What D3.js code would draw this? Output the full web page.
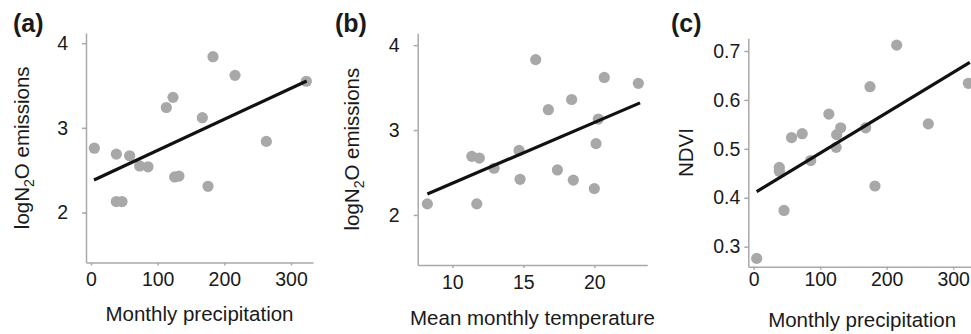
<!DOCTYPE html>
<html lang="en">
<head>
    <meta charset="UTF-8">
    <title>N2O emissions and NDVI vs climate</title>
    <style>
        body {
            margin: 0;
            background: #fff;
        }

        svg text {
            font-family: "Liberation Sans", Arial, Helvetica, sans-serif;
            fill: #1a1a1a;
        }

        .axis path,
        .axis line {
            stroke: #a9a9a9;
            stroke-width: 1.5px;
        }

        .axis text {
            font-size: 19.5px;
        }

        .title {
            font-size: 20.5px;
        }

        .panel-label {
            font-size: 25px;
            font-weight: bold;
        }

        .dot {
            fill: #a8a8a8;
        }

        .fit {
            stroke: #111;
            stroke-width: 3.2px;
            fill: none;
        }
    </style>
</head>
<body>
<div id="chart"></div>

<script src="https://cdn.jsdelivr.net/npm/d3@7"></script>
<script>

    // (a) log N2O emissions against monthly precipitation
    var precipA = [5, 38, 38, 46.5, 58, 73, 85.5, 113, 123, 125.5, 132, 167, 175.5, 183, 216, 263, 323]
    var n2oA = [2.76, 2.69, 2.13, 2.13, 2.67, 2.55, 2.54, 3.24, 3.36, 2.42, 2.43, 3.12, 2.31, 3.84, 3.62, 2.84, 3.55]
    var fitAx = [4.5, 323.5]
    var fitAy = [2.385, 3.554]

    // (b) log N2O emissions against mean monthly temperature
    var tempB = [8.24, 11.37, 11.9, 11.72, 12.94, 14.7, 14.77, 15.87, 16.76, 17.4, 18.4, 18.52, 20.12, 20.0, 20.28, 20.7, 23.1]
    var n2oB = [2.13, 2.69, 2.67, 2.13, 2.55, 2.76, 2.42, 3.83, 3.24, 2.53, 3.36, 2.41, 2.84, 2.31, 3.13, 3.62, 3.55]
    var fitBx = [8.24, 23.22]
    var fitBy = [2.247, 3.32]

    // (c) NDVI against monthly precipitation
    var precipC = [4.5, 38.5, 38.5, 45.6, 57, 73, 85.7, 113, 124.8, 124, 130.8, 168.4, 174.9, 182.4, 215, 262.6, 322.8]
    var ndviC = [0.276, 0.462, 0.454, 0.374, 0.523, 0.531, 0.476, 0.571, 0.529, 0.503, 0.543, 0.543, 0.627, 0.424, 0.712, 0.551, 0.634]
    var fitCx = [4.5, 325]
    var fitCy = [0.4124, 0.677]

    var ticksN2O = [2, 3, 4]
    var ticksPrecip = [0, 100, 200, 300]
    var ticksTemp = [10, 15, 20]
    var ticksNdvi = [0.3, 0.4, 0.5, 0.6, 0.7]

    var width = 971,
        height = 334

    var svg = d3.select("#chart").append("svg")
        .attr("width", width)
        .attr("height", height)

    // layout of each panel: where the axis lines sit and how far the labels are pushed out
    var panels = [
        {
            label: "(a)", labelX: 13,
            x: precipA, y: n2oA, fx: fitAx, fy: fitAy,
            xDomain: [-7.5, 333], yDomain: [1.41, 4.12],
            left: 86, right: 313, top: 33, bottom: 262.5,
            xTicks: ticksPrecip, yTicks: ticksN2O, yFormat: d3.format("d"),
            xPad: 7, yPad: 14,
            xTitle: "Monthly precipitation", xTitleY: 321,
            yTitle: "n2o", yTitleX: 29
        },
        {
            label: "(b)", labelX: 335,
            x: tempB, y: n2oB, fx: fitBx, fy: fitBy,
            xDomain: [7.56, 23.73], yDomain: [1.41, 4.14],
            left: 417.7, right: 647.3, top: 33.3, bottom: 265,
            xTicks: ticksTemp, yTicks: ticksN2O, yFormat: d3.format("d"),
            xPad: 7, yPad: 14,
            xTitle: "Mean monthly temperature", xTitleY: 325,
            yTitle: "n2o", yTitleX: 359
        },
        {
            label: "(c)", labelX: 671,
            x: precipC, y: ndviC, fx: fitCx, fy: fitCy,
            xDomain: [-8.1, 334.3], yDomain: [0.259, 0.726],
            left: 748.3, right: 976, top: 38.3, bottom: 266.7,
            xTicks: ticksPrecip, yTicks: ticksNdvi, yFormat: d3.format(".1f"),
            xPad: 2, yPad: 4,
            xTitle: "Monthly precipitation", xTitleY: 326.5,
            yTitle: "NDVI", yTitleX: 693
        }
    ]

    panels.forEach(function (p) {
        var g = svg.append("g")

        var x = d3.scaleLinear().domain(p.xDomain).range([p.left, p.right])
        var y = d3.scaleLinear().domain(p.yDomain).range([p.bottom, p.top])

        g.append("g")
            .attr("class", "axis")
            .attr("transform", "translate(0," + p.bottom + ")")
            .call(d3.axisBottom(x).tickValues(p.xTicks).tickSizeInner(3).tickSizeOuter(0).tickPadding(p.xPad))

        g.append("g")
            .attr("class", "axis")
            .attr("transform", "translate(" + p.left + ",0)")
            .call(d3.axisLeft(y).tickValues(p.yTicks).tickFormat(p.yFormat).tickSizeInner(4).tickSizeOuter(0).tickPadding(p.yPad))

        g.selectAll(".axis text").attr("fill", "#1a1a1a")
        g.selectAll(".axis .domain").attr("stroke", "#a9a9a9")
        g.selectAll(".axis .tick line").attr("stroke", "#a9a9a9")

        // points
        var pts = d3.zip(p.x, p.y)
        g.selectAll("circle")
            .data(pts)
            .enter().append("circle")
            .attr("class", "dot")
            .attr("cx", function (d) { return x(d[0]) })
            .attr("cy", function (d) { return y(d[1]) })
            .attr("r", 5.6)

        // fitted line
        g.append("path")
            .attr("class", "fit")
            .attr("d", d3.line()
                .x(function (d) { return x(d[0]) })
                .y(function (d) { return y(d[1]) })(d3.zip(p.fx, p.fy)))

        // axis titles
        g.append("text")
            .attr("class", "title")
            .attr("text-anchor", "middle")
            .attr("x", (p.left + p.right) / 2)
            .attr("y", p.xTitleY)
            .text(p.xTitle)

        var yt = g.append("text")
            .attr("class", "title")
            .attr("text-anchor", "middle")
            .attr("transform", "translate(" + p.yTitleX + "," + ((p.top + p.bottom) / 2) + ") rotate(-90)")
        if (p.yTitle === "n2o") {
            yt.append("tspan").text("logN")
            yt.append("tspan").attr("dy", 5).style("font-size", "14px").text("2")
            yt.append("tspan").attr("dy", -5).text("O emissions")
        } else {
            yt.text(p.yTitle)
        }

        g.append("text")
            .attr("class", "panel-label")
            .attr("x", p.labelX)
            .attr("y", 31.5)
            .text(p.label)
    })

</script>
</body>
</html>
